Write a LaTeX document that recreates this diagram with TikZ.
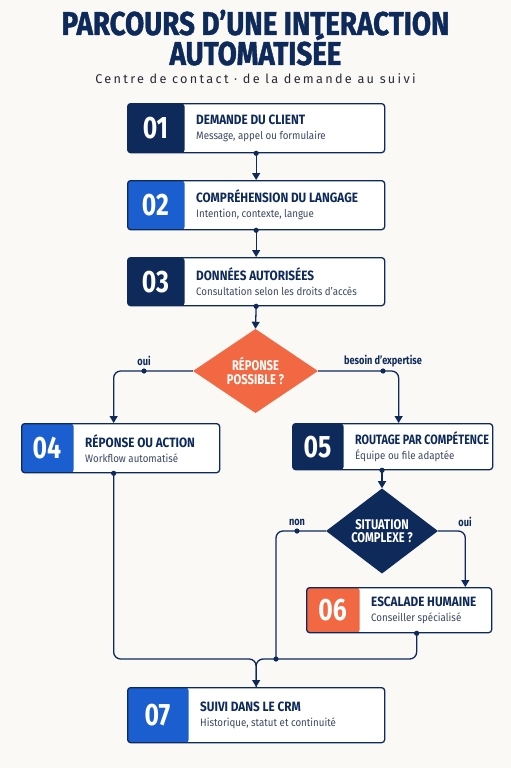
\documentclass[tikz,border=0pt]{standalone}
\usepackage{fontspec}
\setmainfont{Fira Sans}
\newfontfamily\condf[FakeStretch=0.8]{Fira Sans}
\newfontfamily\titlef[FakeStretch=0.84,FakeBold=1.2]{Fira Sans}
\newfontfamily\boxf[FakeStretch=0.87]{Fira Sans}
\newfontfamily\subcondf[FakeStretch=0.9]{Fira Sans}
\newfontfamily\spacedf[LetterSpace=18]{Fira Sans}
\usetikzlibrary{arrows.meta,calc,shapes.geometric}
\definecolor{navy}{HTML}{0E2A5A}
\definecolor{bleu}{HTML}{1A5ED0}
\definecolor{orng}{HTML}{F26842}
\definecolor{bg}{HTML}{FAF9F5}
\definecolor{subgray}{HTML}{3B4763}
\definecolor{subtl}{HTML}{262B36}
\tikzset{
  flowbox/.style={draw=navy, line width=1.3pt, fill=white, rounded corners=3pt, inner sep=0pt},
  block/.style 2 args={path picture={\fill[#1] (path picture bounding box.south west) rectangle ($(path picture bounding box.north west)+(#2,0)$);}},
  numtext/.style={text=white, inner sep=0pt, font=\condf\bfseries\fontsize{31}{31}\selectfont},
  ttl/.style={anchor=west, align=left, text=navy, inner sep=0pt, font=\fontsize{10}{15}\selectfont},
  conn/.style={draw=navy, line width=1.3pt, rounded corners=7pt},
  arr/.style={-{Triangle[width=8pt,length=7pt]}},
  dec/.style={diamond, inner sep=0pt, text=white, align=center, font=\condf\bfseries\fontsize{14}{13.5}\selectfont},
  lbl/.style={text=navy, inner sep=0pt, font=\condf\bfseries\fontsize{11.5}{11.5}\selectfont},
  dot/.style={fill=navy}
}
\newcommand{\ttlA}[2]{{\boxf\bfseries\fontsize{13.5}{15}\selectfont #1}\\{\subcondf\fontsize{10.8}{15}\selectfont\color{subgray}#2}}
\newcommand{\ttlB}[2]{{\condf\bfseries\fontsize{13.5}{15}\selectfont #1}\\{\subcondf\fontsize{10.8}{15}\selectfont\color{subgray}#2}}
\newcommand{\mkbox}[9]{%
  \node[flowbox, block={#7}{#6}, minimum width=#4pt, minimum height=#5pt, anchor=north west] (#1) at (#2,#3) {};
  \node[numtext] (#1num) at ($(#1.west)+(#6/2,0)$) {#8};
  \node[ttl] (#1txt) at ($(#1.west)+(#6+12,0)$) {#9};
}
\begin{document}
\begin{tikzpicture}[x=1pt,y=-1pt]
\fill[bg] (0,0) rectangle (511,768);
\useasboundingbox (0,0) rectangle (511,768);
% title
\node[text=navy, inner sep=0pt, anchor=base, font=\titlef\bfseries\fontsize{33}{33}\selectfont] (t1) at (255.5,35) {PARCOURS D’UNE INTERACTION};
\node[text=navy, inner sep=0pt, anchor=base, font=\titlef\bfseries\fontsize{33}{33}\selectfont] (t2) at (255.5,65) {AUTOMATISÉE};
\node[text=subtl, inner sep=0pt, anchor=base, font=\spacedf\fontsize{12.7}{12}\selectfont] (st) at (255.5,83) {Centre de contact · de la demande au suivi};
% boxes
\mkbox{b1}{127}{103}{257}{49}{57}{navy}{01}{\ttlA{DEMANDE DU CLIENT}{Message, appel ou formulaire}}
\mkbox{b2}{127}{180}{257}{49}{57}{bleu}{02}{\ttlA{COMPRÉHENSION DU LANGAGE}{Intention, contexte, langue}}
\mkbox{b3}{127}{257}{257}{48}{57}{navy}{03}{\ttlA{DONNÉES AUTORISÉES}{Consultation selon les droits d’accès}}
\mkbox{b4}{21}{423}{198}{49}{52}{bleu}{04}{\ttlA{RÉPONSE OU ACTION}{Workflow automatisé}}
\mkbox{b5}{292}{423}{200}{46}{51}{navy}{05}{\ttlB{ROUTAGE PAR COMPÉTENCE}{Équipe ou file adaptée}}
\mkbox{b6}{306}{587}{185}{45}{53}{orng}{06}{\ttlA{ESCALADE HUMAINE}{Conseiller spécialisé}}
\mkbox{b7}{127}{687}{257}{55}{61}{bleu}{07}{\ttlA{SUIVI DANS LE CRM}{Historique, statut et continuité}}
% decisions
\node[dec, fill=orng, minimum width=125pt, minimum height=82pt] (d1) at (255.5,371) {RÉPONSE\\POSSIBLE ?};
\node[dec, fill=navy, minimum width=112pt, minimum height=77pt] (d2) at (382,531) {SITUATION\\COMPLEXE ?};
% labels
\node[lbl] (loui) at (144,361) {oui};
\node[lbl] (lbes) at (383,361) {besoin d’expertise};
\node[lbl] (lnon) at (297,522) {non};
\node[lbl] (loui2) at (465,522) {oui};
\coordinate (m2) at (276,659);
\coordinate (m1) at (b7.north |- m2);
% connectors
\draw[conn,arr] (b1.south) -- (b2.north);
\draw[conn,arr] (b2.south) -- (b3.north);
\draw[conn,arr] (b3.south) -- (d1.north);
\draw[conn,arr] (d1.west) -| ($(b4.north)+(-7,0)$);
\draw[conn,arr] (d1.east) -| ($(b5.north)+(6,0)$);
\draw[conn,arr] (d2.north |- b5.south) -- (d2.north);
\draw[conn,arr] (d2.east) -| ($(b6.north east)+(-27,0)$);
\draw[conn] (d2.west) -| (m2);
\draw[conn] ($(b6.south)+(17.5,0)$) |- (m2);
\draw[conn,arr] ($(b4.south)+(-7,0)$) |- (m1) -- (b7.north);
\draw[conn] (m2) -- (m1) -- (b7.north);
% dots
\foreach \p in {b1.south, b2.south, b3.south, m2}
  \fill[dot] (\p) circle (2.6pt);
\fill[dot] ($(b4.south)+(-7,0)$) circle (2.6pt);
\fill[dot] ($(b6.south)+(17.5,0)$) circle (2.6pt);
\fill[dot] (d2.north |- b5.south) circle (2.6pt);
\fill[dot] (loui |- d1.west) circle (2.6pt);
\fill[dot] (lbes |- d1.east) circle (2.6pt);
\fill[dot] (lnon |- d2.west) circle (2.6pt);
\end{tikzpicture}
\end{document}
